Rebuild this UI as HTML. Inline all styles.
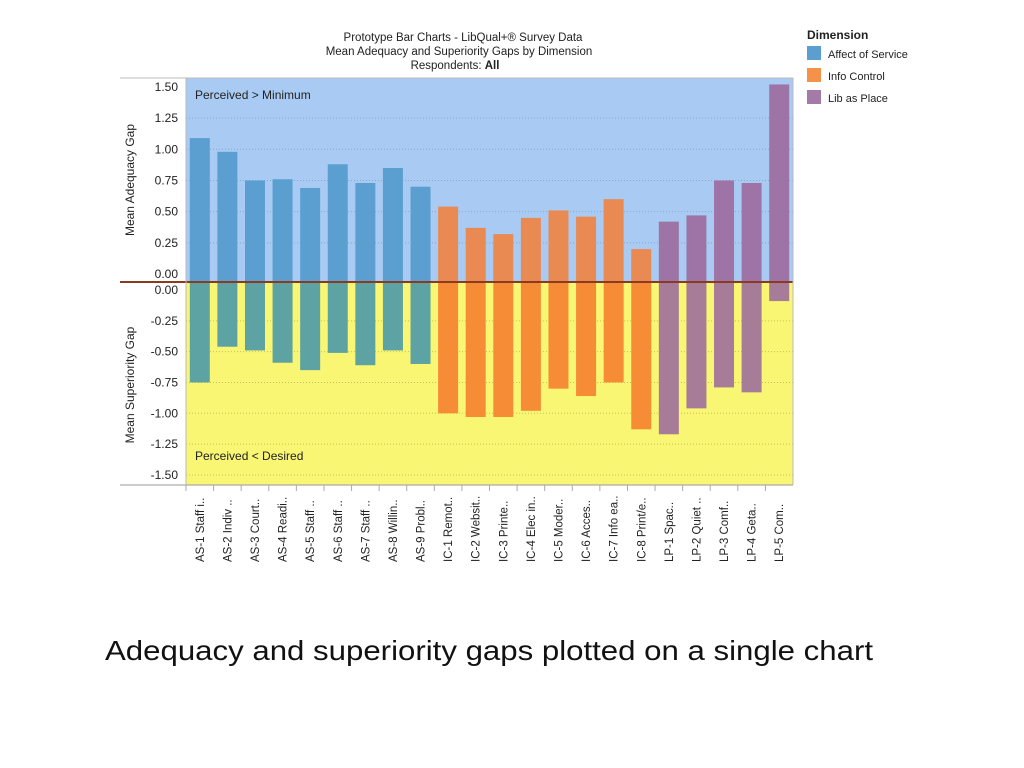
<!DOCTYPE html>
<html><head><meta charset="utf-8"><style>
html,body{margin:0;padding:0;background:#fff;width:1024px;height:768px;overflow:hidden;font-family:"Liberation Sans",sans-serif}
</style></head><body>
<svg id="chart" width="1024" height="768" xmlns="http://www.w3.org/2000/svg" style="position:absolute;left:0;top:0">
<g font-size="11.5" fill="#222" text-anchor="middle">
<text x="463" y="41">Prototype Bar Charts - LibQual+® Survey Data</text>
<text x="459" y="55">Mean Adequacy and Superiority Gaps by Dimension</text>
<text x="455" y="69">Respondents:  <tspan font-weight="bold">All</tspan></text>
</g>
<g font-size="11" fill="#222">
<text x="807" y="39" font-weight="bold" font-size="12">Dimension</text>
<rect x="807" y="46" width="14" height="14" fill="#5b9fd0"/>
<text x="828" y="58">Affect of Service</text>
<rect x="807" y="68" width="14" height="14" fill="#f4924a"/>
<text x="828" y="80">Info Control</text>
<rect x="807" y="90" width="14" height="14" fill="#a47aa8"/>
<text x="828" y="102">Lib as Place</text>
</g>
<g id="plot"></g>
<text x="105" y="660" font-family="Liberation Sans, sans-serif" font-size="28" fill="#111" textLength="768" lengthAdjust="spacingAndGlyphs">Adequacy and superiority gaps plotted on a single chart</text>
</svg>
<script>
const categories=["AS-1 Staff i..","AS-2 Indiv ..","AS-3 Court..","AS-4 Readi..","AS-5 Staff ..","AS-6 Staff ..","AS-7 Staff ..","AS-8 Willin..","AS-9 Probl..","IC-1 Remot..","IC-2 Websit..","IC-3 Printe..","IC-4 Elec in..","IC-5 Moder..","IC-6 Acces..","IC-7 Info ea..","IC-8 Print/e..","LP-1 Spac..","LP-2 Quiet ..","LP-3 Comf..","LP-4 Geta..","LP-5 Com.."];
const dimensions=["AS","AS","AS","AS","AS","AS","AS","AS","AS","IC","IC","IC","IC","IC","IC","IC","IC","LP","LP","LP","LP","LP"];
const adequacy=[1.09,0.98,0.75,0.76,0.69,0.88,0.73,0.85,0.70,0.54,0.37,0.32,0.45,0.51,0.46,0.60,0.20,0.42,0.47,0.75,0.73,1.52];
const superiority=[-0.75,-0.46,-0.49,-0.59,-0.65,-0.51,-0.61,-0.49,-0.60,-1.00,-1.03,-1.03,-0.98,-0.80,-0.86,-0.75,-1.13,-1.17,-0.96,-0.79,-0.83,-0.09];
const topTicks=["1.50","1.25","1.00","0.75","0.50","0.25","0.00"];
const botTicks=["0.00","-0.25","-0.50","-0.75","-1.00","-1.25","-1.50"];
const NS="http://www.w3.org/2000/svg";
const g=document.getElementById('plot');
const X0=186,X1=793,TOP=78,MID=282,BOT=485;
const yTop=v=>274-v*124.7;
const yBot=v=>290-v*123.3;
const slot=(X1-X0)/categories.length;
const xC=i=>X0+slot*(i+0.5);
const colTop={AS:"#5b9fd0",IC:"#e98a52",LP:"#9e74a6"};
const colBot={AS:"#5da3a4",IC:"#f68d36",LP:"#a67c98"};
function el(t,a){const e=document.createElementNS(NS,t);for(const k in a)e.setAttribute(k,a[k]);g.appendChild(e);return e;}
let e;
e=el('rect',{x:X0,y:TOP,width:X1-X0,height:MID-TOP,fill:"#a9cbf3"});


e=el('rect',{x:X0,y:MID,width:X1-X0,height:BOT-MID,fill:"#f8f673"});


topTicks.forEach(t=>{const y=yTop(parseFloat(t));
 if(parseFloat(t)>0&&parseFloat(t)<1.5){e=el('line',{x1:X0,x2:X1,y1:y,y2:y,stroke:"#8aa6c8","stroke-dasharray":"1 2","stroke-width":1});}
 e=el('text',{x:178,y:y+4,"text-anchor":"end","font-size":12,fill:"#222"});e.textContent=t;
 
 });
botTicks.forEach(t=>{const y=yBot(parseFloat(t));
 if(parseFloat(t)<0){e=el('line',{x1:X0,x2:X1,y1:y,y2:y,stroke:"#c8c060","stroke-dasharray":"1 2","stroke-width":1});}
 e=el('text',{x:178,y:y+4,"text-anchor":"end","font-size":12,fill:"#222"});e.textContent=t;
 
 });
adequacy.forEach((v,i)=>{const y=yTop(v);
 e=el('rect',{x:xC(i)-10,y:y,width:20,height:MID-y,fill:colTop[dimensions[i]]});
 
 });
superiority.forEach((v,i)=>{const y=yBot(v);
 e=el('rect',{x:xC(i)-10,y:MID,width:20,height:y-MID,fill:colBot[dimensions[i]]});
 
 });
e=el('line',{x1:120,x2:X1,y1:MID,y2:MID,stroke:"#8a3a20","stroke-width":2});


e=el('line',{x1:120,x2:X1,y1:TOP,y2:TOP,stroke:"#bbb","stroke-width":1});


e=el('line',{x1:120,x2:X1,y1:BOT,y2:BOT,stroke:"#999","stroke-width":1});


e=el('line',{x1:X0,x2:X0,y1:TOP,y2:BOT,stroke:"#bbb","stroke-width":1});


e=el('line',{x1:X1,x2:X1,y1:TOP,y2:BOT,stroke:"#bbb","stroke-width":1});


categories.forEach((c,i)=>{
 e=el('line',{x1:X0+slot*i,x2:X0+slot*i,y1:BOT,y2:BOT+6,stroke:"#aaa"});
 
 
 const x=xC(i)+4;
 e=el('text',{x:x,y:562,"font-size":11.5,fill:"#222",transform:`rotate(-90 ${x} 562)`});
 e.textContent=c;
 
 });
e=el('text',{x:195,y:99,"font-size":12,fill:"#222"});e.textContent="Perceived  >  Minimum";


e=el('text',{x:195,y:460,"font-size":12,fill:"#222"});e.textContent="Perceived  <  Desired";


e=el('text',{x:134,y:180,"font-size":12,fill:"#222","text-anchor":"middle",transform:"rotate(-90 134 180)"});e.textContent="Mean Adequacy Gap";


e=el('text',{x:134,y:385,"font-size":12,fill:"#222","text-anchor":"middle",transform:"rotate(-90 134 385)"});e.textContent="Mean Superiority Gap";


</script>
</body></html>
